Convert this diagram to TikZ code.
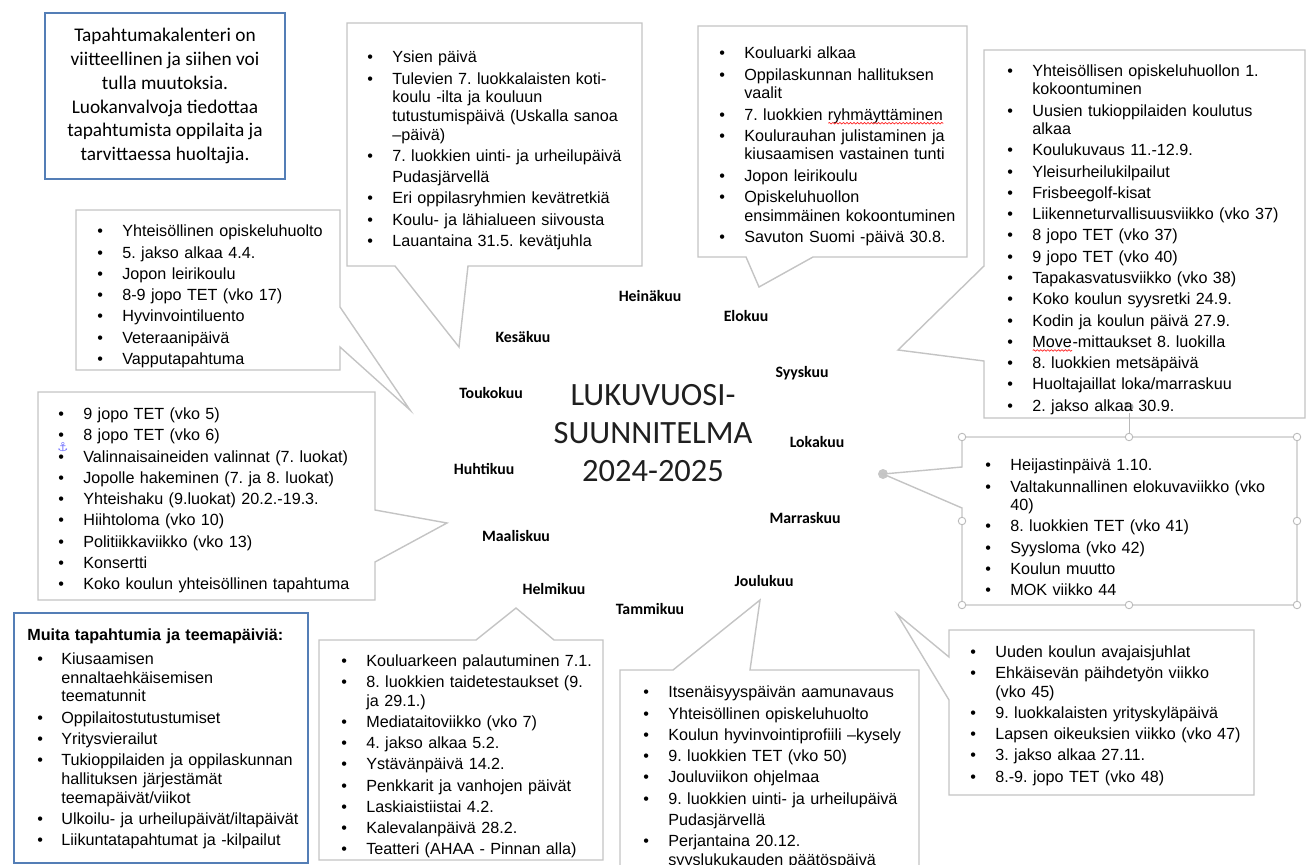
\documentclass[tikz,border=0pt]{standalone}
\usepackage{fontspec}
\setmainfont{Liberation Sans}
\newfontfamily\calibri{Carlito}
\newfontfamily\dejavu{DejaVu Sans}
\usepackage{xcolor}
\usepackage{enumitem}
\usetikzlibrary{decorations.pathmorphing}

% 列表样式
\newlist{kohdat}{itemize}{1}
\setlist[kohdat]{label=\textbullet, nosep, itemsep=1.5pt, align=left,
  leftmargin=0.5cm, labelwidth=0.5cm, labelsep=0pt, labelindent=0pt}
\newsavebox{\virhelaatikko}

\begin{document}
\begin{tikzpicture}[x=0.02cm, y=-0.02cm]
    % 定义颜色
    \definecolor{reunasininen}{RGB}{84,126,182}
    \definecolor{reunaharmaa}{RGB}{196,196,196}
    % 自定义命令：红色波浪下划线
    \newcommand{\virhe}[1]{\leavevmode\sbox{\virhelaatikko}{#1}\rlap{\usebox{\virhelaatikko}}%
      \tikz[baseline=0pt]\draw[red!85, line width=0.4pt, decorate,
        decoration={snake, amplitude=0.45pt, segment length=2pt}]
        (0pt,-1.8pt) -- (\wd\virhelaatikko,-1.8pt);}
    % --- 设置全局样式 ---
    \tikzset{kupla/.style = {
        draw=reunaharmaa,       % 边框颜色
        fill=white,             % 填充颜色
        line width=0.8pt        % 边框粗细
    }}
    \tikzset{sininen/.style = {
        draw=reunasininen,
        line width=1.3pt
    }}
    \tikzset{lista/.style = {
        anchor=west,
        inner sep=0pt,
        text width=6.2cm,
        align=left,
        font=\fontsize{9.2}{10.6}\selectfont\frenchspacing
    }}
    \tikzset{kuukausi/.style = {
        inner sep=1pt,
        font=\calibri\bfseries\fontsize{9}{10}\selectfont
    }}
    \tikzset{kahva/.style = {
        circle, draw=gray!55, fill=white,
        inner sep=0pt, minimum size=0.15cm, line width=0.5pt
    }}

    \useasboundingbox (0,0) rectangle (1315,865);

    % --- 说明框 ---
    \node[sininen, minimum width=4.8cm, minimum height=3.32cm, align=center,
          font=\calibri\fontsize{11}{13.6}\selectfont] (huomio) at (165,96)
        {Tapahtumakalenteri on\\ viitteellinen ja siihen voi\\ tulla muutoksia.\\
         Luokanvalvoja tiedottaa\\ tapahtumista oppilaita ja\\ tarvittaessa huoltajia.};

    % --- 标题 ---
    \node[align=center, text=black!88, font=\calibri\fontsize{18.5}{21.6}\selectfont]
        (otsikko) at (653,433) {LUKUVUOSI-\\SUUNNITELMA\\2024-2025};

    % --- 月份 ---
    \node[kuukausi] (heina)  at (650,296) {Heinäkuu};
    \node[kuukausi] (elo)    at (746,316) {Elokuu};
    \node[kuukausi] (kesa)   at (523,337) {Kesäkuu};
    \node[kuukausi] (syys)   at (802,373) {Syyskuu};
    \node[kuukausi] (touko)  at (491,393) {Toukokuu};
    \node[kuukausi] (loka)   at (817,442) {Lokakuu};
    \node[kuukausi] (huhti)  at (484,469) {Huhtikuu};
    \node[kuukausi] (marras) at (805,518) {Marraskuu};
    \node[kuukausi] (maalis) at (516,536) {Maaliskuu};
    \node[kuukausi] (joulu)  at (764,581) {Joulukuu};
    \node[kuukausi] (helmi)  at (554,589) {Helmikuu};
    \node[kuukausi] (tammi)  at (650,609) {Tammikuu};

    % --- 气泡尖端 ---
    \coordinate (kesaKarki)   at (459,347);
    \coordinate (toukoKarki)  at (410,410);
    \coordinate (eloKarki)    at (759,287);
    \coordinate (syysKarki)   at (898,350);
    \coordinate (maalisKarki) at (447,523);
    \coordinate (tammiKarki)  at (516,608);
    \coordinate (jouluKarki)  at (760,600);
    \coordinate (marrasKarki) at (897,614);

    % --- 气泡框 ---
    \draw[kupla] (347,23) -- (642,23) -- (642,266) -- (468,266) -- (kesaKarki) -- (395,266) -- (347,266) -- cycle;
    \draw[kupla] (76,210) -- (340,210) -- (340,307) -- (toukoKarki) -- (340,347) -- (340,370) -- (76,370) -- cycle;
    \draw[kupla] (698,26) -- (967,26) -- (967,257) -- (813,257) -- (eloKarki) -- (746,257) -- (698,257) -- cycle;
    \draw[kupla] (984,50) -- (1305,50) -- (1305,418) -- (984,418) -- (984,361) -- (syysKarki) -- (984,266) -- cycle;
    \draw[kupla] (38,392) -- (375,392) -- (375,510) -- (maalisKarki) -- (375,562) -- (375,600) -- (38,600) -- cycle;
    \draw[kupla] (319,640) -- (476,640) -- (tammiKarki) -- (554,640) -- (603,640) -- (603,860) -- (319,860) -- cycle;
    \draw[kupla] (620,670) -- (673,670) -- (jouluKarki) -- (750,670) -- (919,670) -- (919,880) -- (620,880) -- cycle;
    \draw[kupla] (949,630) -- (1254,630) -- (1254,795) -- (949,795) -- (949,700) -- (marrasKarki) -- (949,657) -- cycle;
    \draw[sininen] (14,613) rectangle (308,863);

    % --- 选中的十月气泡 ---
    \node[circle, fill=gray!45, inner sep=0pt, minimum size=0.2cm] (lokaKarki) at (883,474) {};
    \draw[kupla] (962,437) -- (1297,437) -- (1297,605) -- (962,605) -- (962,508) -- (lokaKarki.center) -- (962,467) -- cycle;
    \node[kahva] (k1) at (962,437) {};
    \node[kahva] (k2) at (1129,437) {};
    \node[kahva] (k3) at (1297,437) {};
    \node[kahva] (k4) at (962,521) {};
    \node[kahva] (k5) at (1297,521) {};
    \node[kahva] (k6) at (962,605) {};
    \node[kahva] (k7) at (1129,605) {};
    \node[kahva] (k8) at (1297,605) {};
    \node[inner sep=0pt, text=gray!70, font=\dejavu\fontsize{8}{8}\selectfont] (kierto) at (1129,408) {↻};
    \draw[gray!55, line width=0.5pt] (kierto) -- (k2);

    % --- 列表 ---
    \node[lista] (kesaLista) at (367,147) {\begin{kohdat}
        \item Ysien päivä
        \item Tulevien 7. luokkalaisten koti-\newline koulu -ilta ja kouluun\newline tutustumispäivä (Uskalla sanoa\newline –päivä)
        \item 7. luokkien uinti- ja urheilupäivä\\[1.5pt] Pudasjärvellä
        \item Eri oppilasryhmien kevätretkiä
        \item Koulu- ja lähialueen siivousta
        \item Lauantaina 31.5. kevätjuhla
    \end{kohdat}};

    \node[lista] (toukoLista) at (97,293) {\begin{kohdat}
        \item Yhteisöllinen opiskeluhuolto
        \item 5. jakso alkaa 4.4.
        \item Jopon leirikoulu
        \item 8-9 jopo TET (vko 17)
        \item Hyvinvointiluento
        \item Veteraanipäivä
        \item Vapputapahtuma
    \end{kohdat}};

    \node[lista] (eloLista) at (719,143) {\begin{kohdat}
        \item Kouluarki alkaa
        \item Oppilaskunnan hallituksen\newline vaalit
        \item 7. luokkien \virhe{ryhmäyttäminen}
        \item Koulurauhan julistaminen ja\newline kiusaamisen vastainen tunti
        \item Jopon leirikoulu
        \item Opiskeluhuollon\newline ensimmäinen kokoontuminen
        \item Savuton Suomi -päivä 30.8.
    \end{kohdat}};

    \node[lista] (syysLista) at (1007,236) {\begin{kohdat}
        \item Yhteisöllisen opiskeluhuollon 1.\newline kokoontuminen
        \item Uusien tukioppilaiden koulutus\newline alkaa
        \item Koulukuvaus 11.-12.9.
        \item Yleisurheilukilpailut
        \item Frisbeegolf-kisat
        \item Liikenneturvallisuusviikko (vko 37)
        \item 8 jopo TET (vko 37)
        \item 9 jopo TET (vko 40)
        \item Tapakasvatusviikko (vko 38)
        \item Koko koulun syysretki 24.9.
        \item Kodin ja koulun päivä 27.9.
        \item \virhe{Move}-mittaukset 8. luokilla
        \item 8. luokkien metsäpäivä
        \item Huoltajaillat loka/marraskuu
        \item 2. jakso alkaa 30.9.
    \end{kohdat}};

    \node[lista] (lokaLista) at (985,524) {\begin{kohdat}
        \item Heijastinpäivä 1.10.
        \item Valtakunnallinen elokuvaviikko (vko\newline 40)
        \item 8. luokkien TET (vko 41)
        \item Syysloma (vko 42)
        \item Koulun muutto
        \item MOK viikko 44
    \end{kohdat}};

    \node[lista] (maalisLista) at (58,497) {\begin{kohdat}
        \item 9 jopo TET (vko 5)
        \item 8 jopo TET (vko 6)
        \item Valinnaisaineiden valinnat (7. luokat)
        \item Jopolle hakeminen (7. ja 8. luokat)
        \item Yhteishaku (9.luokat) 20.2.-19.3.
        \item Hiihtoloma (vko 10)
        \item Politiikkaviikko (vko 13)
        \item Konsertti
        \item Koko koulun yhteisöllinen tapahtuma
    \end{kohdat}};
    \node[inner sep=0pt, text=blue!55, font=\dejavu\fontsize{7}{7}\selectfont] (ankkuri) at (63,447) {⚓};

    \node[lista] (muitaLista) at (27,739) {\textbf{Muita tapahtumia ja teemapäiviä:}\par\vspace{3pt}
      \begin{kohdat}[labelindent=0.2cm, labelwidth=0.48cm, leftmargin=0.68cm]
        \item Kiusaamisen\newline ennaltaehkäisemisen\newline teematunnit
        \item Oppilaitostutustumiset
        \item Yritysvierailut
        \item Tukioppilaiden ja oppilaskunnan\newline hallituksen järjestämät\newline teemapäivät/viikot
        \item Ulkoilu- ja urheilupäivät/iltapäivät
        \item Liikuntatapahtumat ja -kilpailut
    \end{kohdat}};

    \node[lista] (tammiLista) at (341,753) {\begin{kohdat}
        \item Kouluarkeen palautuminen 7.1.
        \item 8. luokkien taidetestaukset (9.\newline ja 29.1.)
        \item Mediataitoviikko (vko 7)
        \item 4. jakso alkaa 5.2.
        \item Ystävänpäivä 14.2.
        \item Penkkarit ja vanhojen päivät
        \item Laskiaistiistai 4.2.
        \item Kalevalanpäivä 28.2.
        \item Teatteri (AHAA - Pinnan alla)
    \end{kohdat}};

    \node[lista] (jouluLista) at (643,774) {\begin{kohdat}
        \item Itsenäisyyspäivän aamunavaus
        \item Yhteisöllinen opiskeluhuolto
        \item Koulun hyvinvointiprofiili –kysely
        \item 9. luokkien TET (vko 50)
        \item Jouluviikon ohjelmaa
        \item 9. luokkien uinti- ja urheilupäivä\\[1.5pt] Pudasjärvellä
        \item Perjantaina 20.12.\newline syyslukukauden päätöspäivä
    \end{kohdat}};

    \node[lista] (marrasLista) at (970,712) {\begin{kohdat}
        \item Uuden koulun avajaisjuhlat
        \item Ehkäisevän päihdetyön viikko\newline (vko 45)
        \item 9. luokkalaisten yrityskyläpäivä
        \item Lapsen oikeuksien viikko (vko 47)
        \item 3. jakso alkaa 27.11.
        \item 8.-9. jopo TET (vko 48)
    \end{kohdat}};

\end{tikzpicture}
\end{document}
